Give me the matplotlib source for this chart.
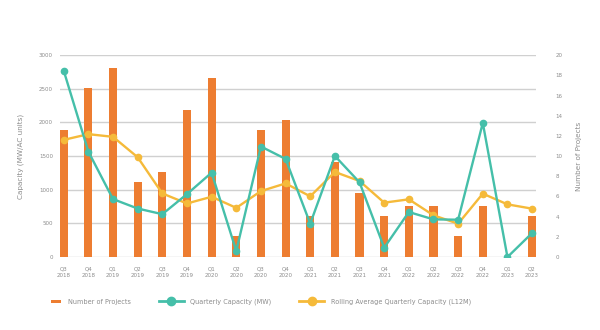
import matplotlib
matplotlib.use("Agg")
import matplotlib.pyplot as plt
import numpy as np
from matplotlib.lines import Line2D
from matplotlib.patches import Rectangle
from matplotlib.legend_handler import HandlerBase

quarters = ["Q3\n2018", "Q4\n2018", "Q1\n2019", "Q2\n2019", "Q3\n2019", "Q4\n2019",
            "Q1\n2020", "Q2\n2020", "Q3\n2020", "Q4\n2020", "Q1\n2021", "Q2\n2021",
            "Q3\n2021", "Q4\n2021", "Q1\n2022", "Q2\n2022", "Q3\n2022", "Q4\n2022",
            "Q1\n2023", "Q2\n2023"]
num_projects = [12.6, 16.7, 18.7, 7.4, 8.4, 14.6, 17.7, 2.1, 12.6, 13.6,
                4.1, 9.4, 6.3, 4.1, 5.1, 5.1, 2.05, 5.1, 0, 4.1]
quarterly_mw = [2770, 1567, 861, 721, 637, 935, 1254, 90, 1642, 1458,
                496, 1502, 1110, 139, 669, 560, 555, 1993, 0, 357]
rolling_avg = [1741, 1826, 1786, 1483, 945, 796, 896, 731, 980, 1094,
               902, 1264, 1130, 808, 858, 620, 496, 942, 783, 719]
left_ticks = list(range(0, 3001, 500))
right_ticks = list(range(0, 21, 2))

orange = "#ED7D31"
teal = "#45BFA9"
yellow = "#F5BA3A"
grey = "#8C8C8C"


class ShortBarHandler(HandlerBase):
    # small bar pushed to the right end of the legend handle slot
    def create_artists(self, legend, orig_handle, xdescent, ydescent,
                       width, height, fontsize, trans):
        w, h = 7.2, 2.4
        r = Rectangle((-xdescent + width - w, -ydescent + height / 2 - h / 2), w, h,
                      facecolor=orange, edgecolor="none", transform=trans)
        return [r]


x = np.arange(len(quarters))

fig = plt.figure(figsize=(6, 3.3), dpi=100)
ax = fig.add_axes([0.1, 0.221, 0.793, 0.612])
ax2 = ax.twinx()

# bars on the right axis (number of projects), lines on the left (MW)
bars = ax2.bar(x, num_projects, width=0.33, color=orange, zorder=2)
ax.plot(x, quarterly_mw, color=teal, lw=1.7, marker="o", ms=4.5, zorder=4)
ax.plot(x, rolling_avg, color=yellow, lw=1.7, marker="o", ms=4.5, zorder=3)

ax.set_zorder(ax2.get_zorder() + 1)
ax.patch.set_visible(False)

ax.set_xlim(-0.15, 19.15)
ax.set_ylim(0, 3000)
ax2.set_ylim(0, 20)
ax.set_yticks(left_ticks)
ax2.set_yticks(right_ticks)
ax.set_xticks(x)
ax.set_xticklabels(quarters)

# gridlines follow the left axis but sit behind the bars
ax2.yaxis.remove_overlapping_locs = False
ax2.set_yticks([v / 3000 * 20 for v in left_ticks], minor=True)
ax2.grid(axis="y", which="minor", color="#D0D0D0", lw=1)
ax2.grid(axis="y", which="major", visible=False)
ax2.set_axisbelow(True)

for a in (ax, ax2):
    for s in a.spines.values():
        s.set_visible(False)
    a.tick_params(which="both", length=0, labelsize=4, colors=grey)
ax.tick_params(axis="y", pad=5)
ax2.tick_params(axis="y", pad=14)
ax.tick_params(axis="x", pad=7)

ax.set_ylabel("Capacity (MW/AC units)", fontsize=5.2, color=grey, labelpad=11)
ax2.set_ylabel("Number of Projects", fontsize=5.2, color=grey, labelpad=10)

handles = [
    bars,
    Line2D([], [], color=teal, lw=2, marker="o", ms=6),
    Line2D([], [], color=yellow, lw=2, marker="o", ms=6),
]
labels = ["Number of Projects", "Quarterly Capacity (MW)",
          "Rolling Average Quarterly Capacity (L12M)"]
leg = fig.legend(handles, labels, loc="center", bbox_to_anchor=(0.423, 0.085),
                 ncol=3, frameon=False, fontsize=4.7, columnspacing=4.3,
                 handlelength=3.8, handletextpad=1.0,
                 handler_map={type(bars): ShortBarHandler()})
for t in leg.get_texts():
    t.set_color(grey)

fig.savefig("out.png", dpi=100, facecolor="white")
